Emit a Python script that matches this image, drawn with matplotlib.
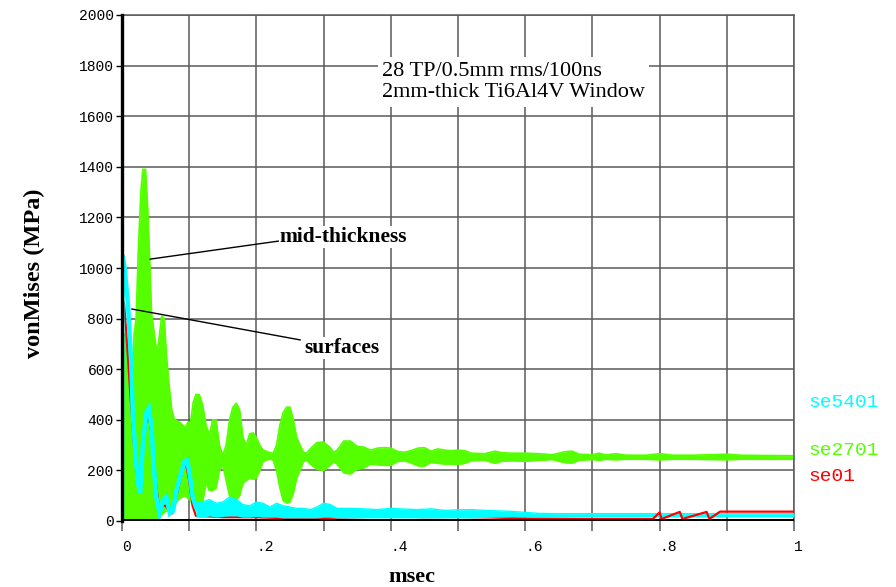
import matplotlib
matplotlib.use("Agg")
import matplotlib.pyplot as plt

# ---- data (msec, MPa) ----
# mid-thickness element: oscillation band (upper / lower extent)
green_t = [0.000, 0.001, 0.004, 0.008, 0.012, 0.015, 0.018, 0.021, 0.024, 0.028, 0.031,
           0.035, 0.038, 0.041, 0.044, 0.048, 0.052, 0.056, 0.059, 0.063, 0.066, 0.070,
           0.074, 0.078, 0.082, 0.086, 0.090, 0.094, 0.098, 0.102, 0.106, 0.110, 0.115,
           0.120, 0.125, 0.130, 0.135, 0.140, 0.145, 0.150, 0.155, 0.160, 0.165, 0.170,
           0.175, 0.180, 0.185, 0.190, 0.195, 0.200, 0.205, 0.210, 0.215, 0.220, 0.225,
           0.230, 0.235, 0.240, 0.245, 0.250, 0.255, 0.260, 0.265, 0.270, 0.275, 0.280,
           0.290, 0.300, 0.310, 0.315, 0.320, 0.330, 0.340, 0.350, 0.360, 0.370, 0.380,
           0.390, 0.400, 0.410, 0.420, 0.430, 0.440, 0.450, 0.460, 0.470, 0.480, 0.490,
           0.500, 0.510, 0.520, 0.540, 0.555, 0.565, 0.580, 0.600, 0.620, 0.640, 0.660,
           0.670, 0.680, 0.700, 0.710, 0.720, 0.735, 0.750, 0.780, 0.800, 0.820, 0.850,
           0.900, 0.920, 0.950, 1.000]
green_hi = [0, 650, 740, 720, 580, 560, 740, 800, 1050, 1300, 1390,
            1390, 1250, 1050, 820, 740, 660, 740, 810, 800, 660, 540,
            440, 400, 395, 390, 380, 370, 390, 390, 470, 500, 500,
            460, 380, 340, 400, 400, 300, 260, 300, 400, 450, 466,
            440, 330, 300, 345, 348, 330, 300, 280, 275, 270, 268,
            300, 380, 430, 450, 450, 400, 330, 300, 272, 268, 285,
            310, 312, 290, 272, 280, 316, 316, 295, 292, 280, 288,
            290, 288, 275, 272, 278, 288, 290, 276, 285, 280, 278,
            280, 278, 268, 266, 276, 270, 268, 268, 266, 262, 274,
            276, 264, 262, 268, 261, 266, 260, 260, 266, 260, 260,
            264, 260, 259, 258]
green_lo = [0, 5, 5, 5, 5, 5, 5, 5, 5, 5, 5,
            5, 5, 5, 5, 10, 10, 15, 25, 35, 40, 45,
            55, 60, 80, 90, 95, 100, 90, 80, 60, 50, 60,
            75, 150, 120, 120, 130, 200, 220, 160, 100, 85, 83,
            100, 150, 160, 170, 165, 170, 200, 235, 241, 245, 240,
            200, 130, 80, 71, 75, 110, 170, 200, 235, 240, 225,
            205, 200, 220, 235, 225, 190, 186, 205, 210, 225, 222,
            220, 220, 235, 238, 230, 218, 217, 232, 228, 225, 225,
            224, 228, 238, 240, 228, 236, 238, 236, 240, 243, 230,
            229, 240, 243, 240, 244, 242, 244, 244, 242, 244, 244,
            242, 244, 244, 244]

# surface element se5401
cyan_t = [0.000, 0.0006, 0.004, 0.009, 0.014, 0.016, 0.021, 0.024, 0.027, 0.031, 0.036,
          0.040, 0.044, 0.046, 0.049, 0.051, 0.056, 0.061, 0.066, 0.071, 0.076, 0.081,
          0.088, 0.093, 0.097, 0.101, 0.105, 0.110, 0.114]
cyan_v = [0, 1050, 1000, 850, 610, 420, 235, 150, 110, 300, 425,
          445, 370, 265, 160, 95, 30, 80, 95, 30, 40, 120,
          190, 235, 240, 180, 95, 55, 40]
# se5401 noise band after the first oscillations
cyan_band_t = [0.110, 0.120, 0.130, 0.140, 0.150, 0.160, 0.170, 0.180, 0.190, 0.200,
               0.210, 0.220, 0.230, 0.240, 0.250, 0.260, 0.270, 0.280, 0.290, 0.300,
               0.310, 0.320, 0.340, 0.360, 0.380, 0.400, 0.420, 0.440, 0.460, 0.480,
               0.500, 0.520, 0.540, 0.560, 0.580, 0.600, 0.620, 0.650, 0.700, 0.800,
               0.900, 1.000]
cyan_band_hi = [70, 75, 85, 70, 75, 95, 85, 65, 60, 75,
                70, 55, 70, 60, 55, 50, 50, 45, 55, 70,
                65, 50, 50, 48, 45, 50, 47, 45, 48, 42,
                44, 45, 42, 40, 38, 34, 30, 29, 29, 29,
                29, 29]
cyan_band_lo = [15, 15, 20, 15, 18, 20, 20, 15, 15, 18,
                15, 15, 15, 12, 12, 12, 12, 12, 12, 15,
                15, 12, 12, 12, 12, 12, 12, 12, 12, 12,
                12, 12, 14, 15, 16, 16, 16, 16, 16, 16,
                16, 16]

# surface element se01
red_t = [0.000, 0.0005, 0.003, 0.006, 0.009, 0.013, 0.018, 0.022, 0.026, 0.030, 0.035,
         0.040, 0.045, 0.050, 0.055, 0.060, 0.065, 0.070, 0.075, 0.080, 0.090, 0.095,
         0.100, 0.105, 0.110, 0.130, 0.150, 0.200, 0.250, 0.300, 0.350, 0.400, 0.450,
         0.500, 0.550, 0.600, 0.700, 0.790]
red_v = [0, 880, 860, 760, 640, 480, 300, 210, 160, 250, 380,
         420, 320, 160, 50, 60, 60, 40, 30, 90, 200, 230,
         160, 60, 20, 18, 15, 15, 10, 12, 15, 18, 15,
         16, 14, 10, 8, 8]
# se01 late-time level, where it rises just above se5401
red_late_t = [0.790, 0.800, 0.803, 0.830, 0.834, 0.870, 0.874, 0.890, 1.000]
red_late_v = [8, 34, 8, 36, 8, 36, 8, 37, 37]

x_ticks = [0.0, 0.1, 0.2, 0.3, 0.4, 0.5, 0.6, 0.7, 0.8, 0.9, 1.0]
x_labels = ["0", "", ".2", "", ".4", "", ".6", "", ".8", "", "1"]
y_ticks = [0, 200, 400, 600, 800, 1000, 1200, 1400, 1600, 1800, 2000]

GREEN = "#55ff00"
CYAN = "#00ffff"
RED = "#ff0000"
GRID = "#5a5a5a"
serif = "Liberation Serif"
mono = "Liberation Mono"

fig = plt.figure(figsize=(8.96, 5.87), dpi=100)
ax = fig.add_axes([122 / 896, 66 / 587, 672 / 896, 506 / 587])
ax.set_xlim(0, 1)
ax.set_ylim(0, 2000)

# grid
for xv in x_ticks[1:]:
    ax.axvline(xv, color=GRID, lw=1.1, zorder=0)
for yv in y_ticks[1:]:
    ax.axhline(yv, color=GRID, lw=1.1, zorder=0)

# traces
ax.fill_between(green_t, green_lo, green_hi, color=GREEN, lw=0, zorder=2)
ax.plot(green_t, green_hi, color=GREEN, lw=1.2, zorder=2)
ax.plot(green_t, green_lo, color=GREEN, lw=1.2, zorder=2)
ax.plot(red_t, red_v, color=RED, lw=1.6, zorder=3)
ax.plot(cyan_t, cyan_v, color=CYAN, lw=3.2, zorder=4, solid_joinstyle="miter")
ax.fill_between(cyan_band_t, cyan_band_lo, cyan_band_hi, color=CYAN, lw=0, zorder=4)
ax.plot(cyan_band_t, cyan_band_hi, color=CYAN, lw=1.0, zorder=4)
ax.plot(red_late_t, red_late_v, color=RED, lw=1.6, zorder=5)

# zero line and axes frame
ax.axhline(0, color="black", lw=3.6, zorder=6)
for side in ("top", "right"):
    ax.spines[side].set_color(GRID)
    ax.spines[side].set_linewidth(1.1)
ax.spines["bottom"].set_visible(False)
ax.spines["left"].set_color("black")
ax.spines["left"].set_linewidth(2.4)
ax.spines["left"].set_zorder(7)

ax.set_xticks(x_ticks)
ax.set_xticklabels(x_labels, fontfamily=mono, fontsize=10.5, ha="left")
ax.set_yticks(y_ticks)
ax.set_yticklabels([str(v) for v in y_ticks], fontfamily=mono, fontsize=10.5)
ax.tick_params(axis="x", direction="out", length=7, width=1.1, color=GRID, pad=7)
ax.tick_params(axis="y", direction="out", length=4, width=1.0, color="black", pad=2)

ax.set_ylabel("vonMises (MPa)", fontfamily=serif, fontweight="bold", fontsize=17.5)
ax.yaxis.set_label_coords(-0.114, 0.49)
ax.text(0.432, -0.11, "msec", transform=ax.transAxes, fontfamily=serif,
        fontweight="bold", fontsize=16, ha="center", va="center")

# annotations
ax.text(0.387, 1735, "28 TP/0.5mm rms/100ns\n2mm-thick Ti6Al4V Window",
        fontfamily=serif, fontsize=16, ha="left", va="center", linespacing=1.2,
        zorder=8, bbox=dict(facecolor="white", edgecolor="none", pad=3))
ax.annotate("mid-thickness", xy=(0.0417, 1035), xytext=(0.235, 1123),
            fontfamily=serif, fontweight="bold", fontsize=15.5, ha="left", va="center",
            zorder=8, bbox=dict(facecolor="white", edgecolor="none", pad=1),
            arrowprops=dict(arrowstyle="-", color="black", lw=1.0,
                            shrinkA=0, shrinkB=0, relpos=(0, 0.3)))
ax.annotate("surfaces", xy=(0.0144, 838), xytext=(0.271, 684),
            fontfamily=serif, fontweight="bold", fontsize=15.5, ha="left", va="center",
            zorder=8, bbox=dict(facecolor="white", edgecolor="none", pad=1),
            arrowprops=dict(arrowstyle="-", color="black", lw=1.0,
                            shrinkA=0, shrinkB=0, relpos=(-0.05, 0.9)))

# series names at the right edge
ax.text(1.021, 470, "se5401", color=CYAN, fontfamily=mono, fontsize=14,
        ha="left", va="center", clip_on=False)
ax.text(1.021, 277, "se2701", color=GREEN, fontfamily=mono, fontsize=14,
        ha="left", va="center", clip_on=False)
ax.text(1.021, 174, "se01", color=RED, fontfamily=mono, fontsize=14,
        ha="left", va="center", clip_on=False)

fig.savefig("out.png", dpi=100)
